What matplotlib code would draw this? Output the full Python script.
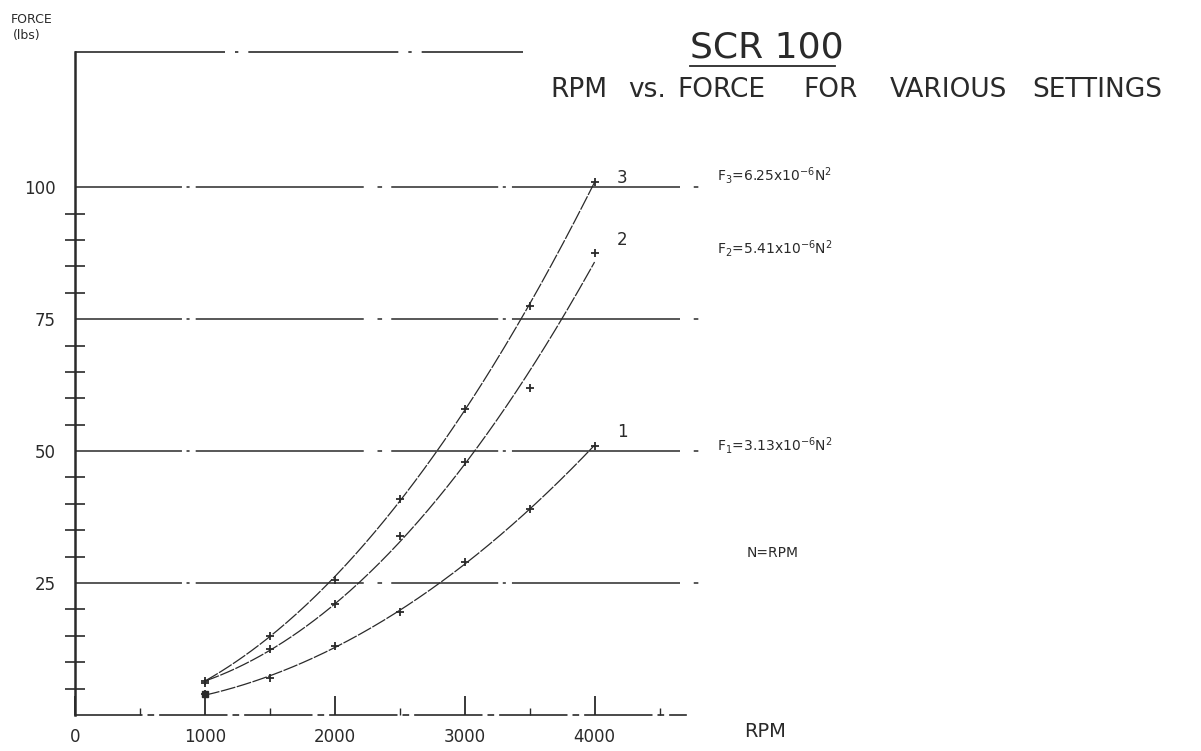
import numpy as np
import matplotlib.pyplot as plt

# readings (rpm, force in lbs)
rpm = [1000, 1500, 2000, 2500, 3000, 3500, 4000]
force_1 = [4, 7, 13, 19.5, 29, 39, 51]
force_2 = [6, 12.5, 21, 34, 48, 62, 87.5]
force_3 = [6.5, 15, 25.5, 41, 58, 77.5, 101]
curve_names = ['1', '2', '3']
formulas = ['F$_1$=3.13x10$^{-6}$N$^2$', 'F$_2$=5.41x10$^{-6}$N$^2$', 'F$_3$=6.25x10$^{-6}$N$^2$']
force_levels = [25, 50, 75, 100]
rpm_ticks = [0, 1000, 2000, 3000, 4000]
subtitle_words = ['RPM', 'vs.', 'FORCE', 'FOR', 'VARIOUS', 'SETTINGS']

ink = '#2a2a2a'
plt.rcParams['font.family'] = 'DejaVu Sans'

fig = plt.figure(figsize=(12.01, 7.51), dpi=100)
ax = fig.add_axes([0.0624, 0.0479, 0.5246, 0.8828])
ax.set_xlim(0, 4850)
ax.set_ylim(0, 125.6)

# broken-looking horizontal rules
for lv in force_levels:
    ax.axhline(lv, color=ink, lw=1.1, ls=(0, (70, 3, 2, 4, 110, 9, 3, 6)))
ax.plot([0, 3450], [125.6, 125.6], color=ink, lw=1.2, ls=(0, (90, 6, 2, 6)), clip_on=False)

# data curves, fitted through the read points
xs = np.linspace(1000, 4000, 200)
label_dy = [2.6, 2.5, 0.7]
for ys, name, dy in zip([force_1, force_2, force_3], curve_names, label_dy):
    p = np.polyfit(rpm, ys, 2)
    ax.plot(xs, np.polyval(p, xs), color=ink, lw=0.9, ls=(0, (12, 1.2)))
    ax.plot(rpm, ys, ls='none', marker='+', ms=6, mew=1.3, color=ink)
    ax.text(rpm[-1] + 170, ys[-1] + dy, name, fontsize=12, color=ink, va='center')
ax.plot(rpm[0], force_1[0], marker='s', ms=4, color=ink)

ax.spines['top'].set_visible(False)
ax.spines['right'].set_visible(False)
ax.spines['left'].set_linewidth(1.8)
ax.spines['left'].set_color(ink)
ax.spines['bottom'].set_linewidth(1.2)
ax.spines['bottom'].set_color(ink)
ax.spines['bottom'].set_linestyle((0, (40, 4, 3, 4)))
ax.spines['bottom'].set_bounds(0, 4700)

ax.set_yticks(force_levels)
ax.set_yticks(np.arange(5, 100, 5), minor=True)
ax.tick_params(axis='y', which='minor', direction='inout', length=14, width=1.2, color=ink)
ax.tick_params(axis='y', which='major', length=0, pad=14, labelsize=12, labelcolor=ink)

ax.set_xticks(rpm_ticks)
ax.set_xticks([500, 1500, 2500, 3500, 4500], minor=True)
ax.tick_params(axis='x', which='major', direction='in', length=14, width=1.3, color=ink,
               pad=9, labelsize=12, labelcolor=ink)
ax.tick_params(axis='x', which='minor', direction='in', length=5, width=1, color=ink)

fig.text(0.620, 0.018, 'RPM', fontsize=14, color=ink)
fig.text(0.009, 0.970, 'FORCE', fontsize=9, color=ink)
fig.text(0.011, 0.948, '(lbs)', fontsize=9, color=ink)

fig.text(690 / 1201, 0.923, 'SCR 100', fontsize=26, color=ink)
fig.lines.append(plt.Line2D([690 / 1201, 835 / 1201], [0.912, 0.912], transform=fig.transFigure,
                            color=ink, lw=1.3))
word_x = [550, 628, 677, 803, 890, 1032]
for w, xp in zip(subtitle_words, word_x):
    fig.text(xp / 1201, 0.871, w, fontsize=19, color=ink)

fig.text(0.597, 0.760, formulas[2], fontsize=10, color=ink)
fig.text(0.597, 0.662, formulas[1], fontsize=10, color=ink)
fig.text(0.597, 0.400, formulas[0], fontsize=10, color=ink)
fig.text(0.622, 0.258, 'N=RPM', fontsize=10, color=ink)

fig.savefig('out.png', dpi=100)
